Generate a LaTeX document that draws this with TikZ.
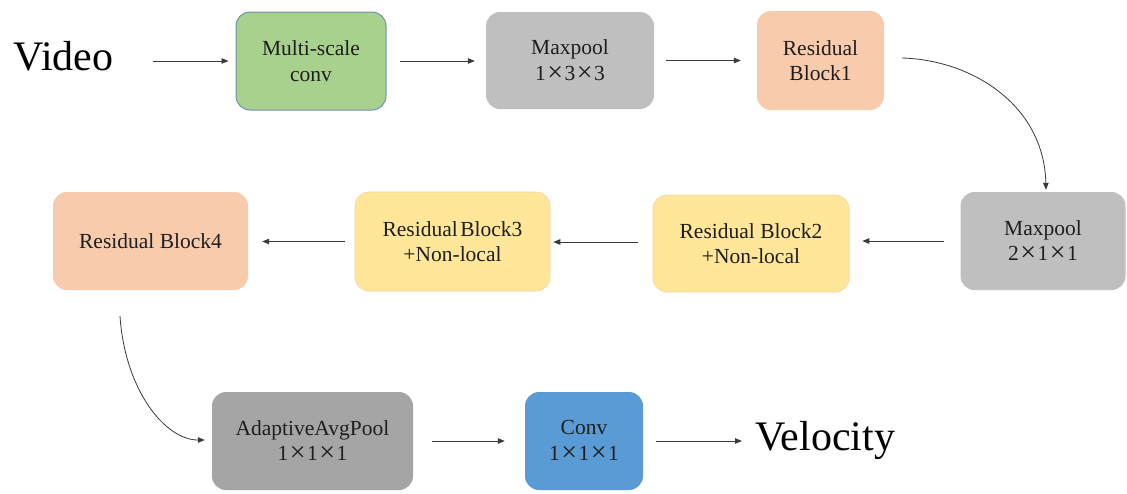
\documentclass[tikz,border=0pt]{standalone}
\usepackage{fontspec}
\setmainfont{Liberation Serif}
\usetikzlibrary{arrows.meta}

\definecolor{greenfill}{HTML}{A9D18E}
\definecolor{greenedge}{HTML}{6F8FB4}
\definecolor{poolgray}{HTML}{BFBFBF}
\definecolor{avggray}{HTML}{A5A5A5}
\definecolor{peach}{HTML}{F8CBAD}
\definecolor{sand}{HTML}{FFE699}
\definecolor{sandedge}{HTML}{F6D29E}
\definecolor{convblue}{HTML}{5B9BD5}
\definecolor{ink}{HTML}{1E1E1E}
\definecolor{wire}{HTML}{3A3A3A}

% wide multiplication sign used in the kernel sizes
\newcommand{\kx}{\hspace{1.5pt}\raisebox{-1.2pt}{\fontsize{28}{28}\selectfont ×}\hspace{1.5pt}}

\begin{document}
\begin{tikzpicture}[x=1pt,y=-1pt,
  block/.style={rectangle, rounded corners=14pt, inner sep=0pt, align=center,
    text=ink, font=\fontsize{21.5}{25.5}\selectfont},
  bigword/.style={anchor=base west, inner sep=0pt, text=black,
    font=\fontsize{42}{42}\selectfont},
  arr/.style={draw=wire, line width=0.8pt, -{Triangle[length=7pt,width=5.5pt]}}]

\useasboundingbox (0,0) rectangle (1127,493);
\fill[white] (0,0) rectangle (1127,493);

% first row
\node[bigword] (video) at (13,70) {Video};
\node[block, fill=greenfill, draw=greenedge, line width=1pt,
      minimum width=150pt, minimum height=98pt] (msc) at (311,61) {Multi-scale\\conv};
\node[block, fill=poolgray, minimum width=168pt, minimum height=97pt]
      (mp1) at (570,60.5) {Maxpool\\1\kx3\kx3};
\node[block, fill=peach, minimum width=127pt, minimum height=99pt]
      (res1) at (820.5,60.5) {Residual\\Block1};

% second row
\node[block, fill=poolgray, minimum width=165pt, minimum height=98pt]
      (mp2) at (1043,241) {Maxpool\\2\kx1\kx1};
\node[block, fill=sand, draw=sandedge, line width=0.6pt,
      minimum width=196pt, minimum height=97pt] (res2) at (751,243.5)
      {Residual Block2\\+Non-local};
\node[block, fill=sand, draw=sandedge, line width=0.6pt,
      minimum width=195pt, minimum height=99pt] (res3) at (452.5,241.5)
      {Residual\hspace{0.12em}Block3\\+Non-local};
\node[block, fill=peach, minimum width=195pt, minimum height=98pt]
      (res4) at (150.5,241) {Residual Block4};

% third row
\node[block, fill=avggray, minimum width=201pt, minimum height=98pt]
      (avg) at (312.5,441) {AdaptiveAvgPool\\1\kx1\kx1};
\node[block, fill=convblue, minimum width=118pt, minimum height=98pt]
      (conv) at (584,441) {Conv\\1\kx1\kx1};
\node[bigword] (vel) at (755,450) {Velocity};

% connectors
\draw[arr, shorten <=39pt, shorten >=7pt] (video.east |- msc.west) -- (msc.west);
\draw[arr, shorten <=13pt, shorten >=11pt] (msc.east) -- (msc.east -| mp1.west);
\draw[arr, shorten <=12pt, shorten >=16pt] (mp1.east) -- (mp1.east -| res1.west);
\draw[arr] ([shift={(18,-2.5)}]res1.east)
  .. controls (972,60) and (1044,105) .. ([shift={(3,-2)}]mp2.north);
\draw[arr, shorten <=16pt, shorten >=13pt] (mp2.west) -- (mp2.west -| res2.east);
\draw[arr, shorten <=15pt, shorten >=3pt] ([yshift=1.5]res2.west) -- ([yshift=1.5]res2.west -| res3.east);
\draw[arr, shorten <=10pt, shorten >=14pt] (res3.west) -- (res3.west -| res4.east);
\draw[arr] ([shift={(-30.5,26)}]res4.south)
  .. controls (125,390) and (165,440) .. ([shift={(-7,-1)}]avg.west);
\draw[arr, shorten <=19pt, shorten >=20pt] (avg.east) -- (avg.east -| conv.west);
\draw[arr, shorten <=13pt, shorten >=13pt] (conv.east) -- (conv.east -| vel.west);

\end{tikzpicture}
\end{document}
